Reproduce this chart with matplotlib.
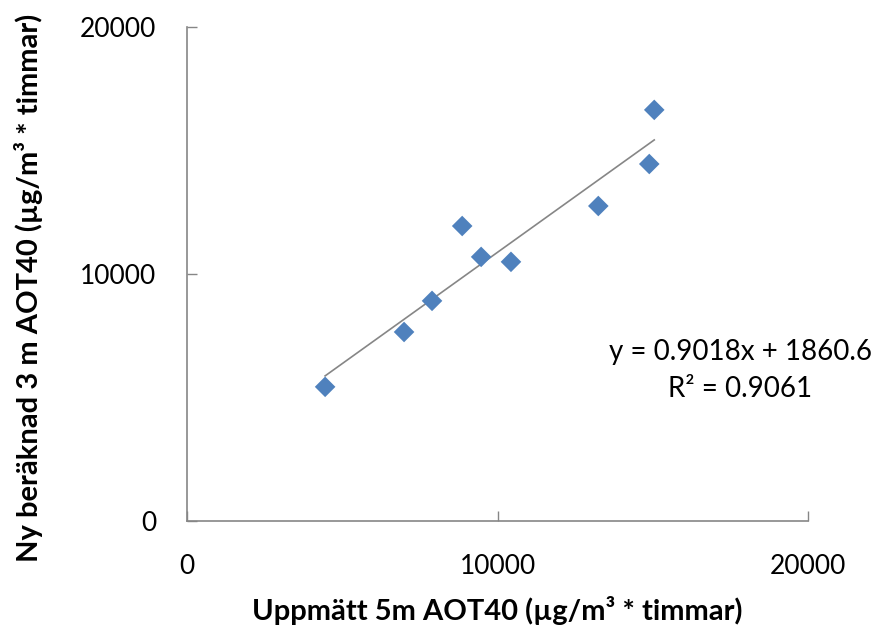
import matplotlib
matplotlib.use('Agg')
import matplotlib.pyplot as plt

# Uppmätt 5m vs ny beräknad 3 m AOT40
uppmatt_5m = [4450, 6990, 7890, 8860, 9470, 10430, 13240, 14880, 15040]
beraknad_3m = [5430, 7650, 8910, 11940, 10690, 10490, 12750, 14450, 16640]

slope = 0.9018
intercept = 1860.6
r2 = 0.9061

ticks = [0, 10000, 20000]

plt.rcParams['font.family'] = ['Lato', 'DejaVu Sans']

fig = plt.figure( figsize = ( 8.73, 6.25 ), dpi = 100 )
ax = fig.add_axes( [ 0.214, 0.1664, 0.712, 0.7906 ] )

ax.scatter( uppmatt_5m, beraknad_3m, marker = 'D', s = 110, color = '#4F81BD',
            edgecolors = 'none', zorder = 3 )

# linear trendline across the data range
x0, x1 = min( uppmatt_5m ), max( uppmatt_5m )
ax.plot( [ x0, x1 ], [ slope * x0 + intercept, slope * x1 + intercept ],
         color = '#868686', lw = 1.2, zorder = 2 )

ax.text( 17800, 6850, 'y = {:.4f}x + {:.1f}'.format( slope, intercept ),
         ha = 'center', va = 'center', fontsize = 20, clip_on = False )
ax.text( 17800, 5350, 'R² = {:.4f}'.format( r2 ),
         ha = 'center', va = 'center', fontsize = 20, clip_on = False )

ax.set_xlim( 0, 20000 )
ax.set_ylim( 0, 20000 )
ax.set_xticks( ticks )
ax.set_yticks( ticks )
ax.tick_params( direction = 'in', length = 7, width = 1, color = '#868686',
                labelsize = 19, pad = 24 )
ax.tick_params( axis = 'y', pad = 22 )

for side in [ 'top', 'right' ]:
    ax.spines[ side ].set_visible( False )
for side in [ 'left', 'bottom' ]:
    ax.spines[ side ].set_color( '#868686' )
    ax.spines[ side ].set_linewidth( 1.2 )

ax.set_xlabel( 'Uppmätt 5m AOT40 (µg/m³ * timmar)', fontsize = 21,
               fontweight = 'bold', labelpad = 12 )
ax.set_ylabel( 'Ny beräknad 3 m AOT40 (µg/m³ * timmar)', fontsize = 21,
               fontweight = 'bold' )
ax.yaxis.set_label_coords( -0.232, 0.472 )

plt.savefig( 'out.png', dpi = 100 )
